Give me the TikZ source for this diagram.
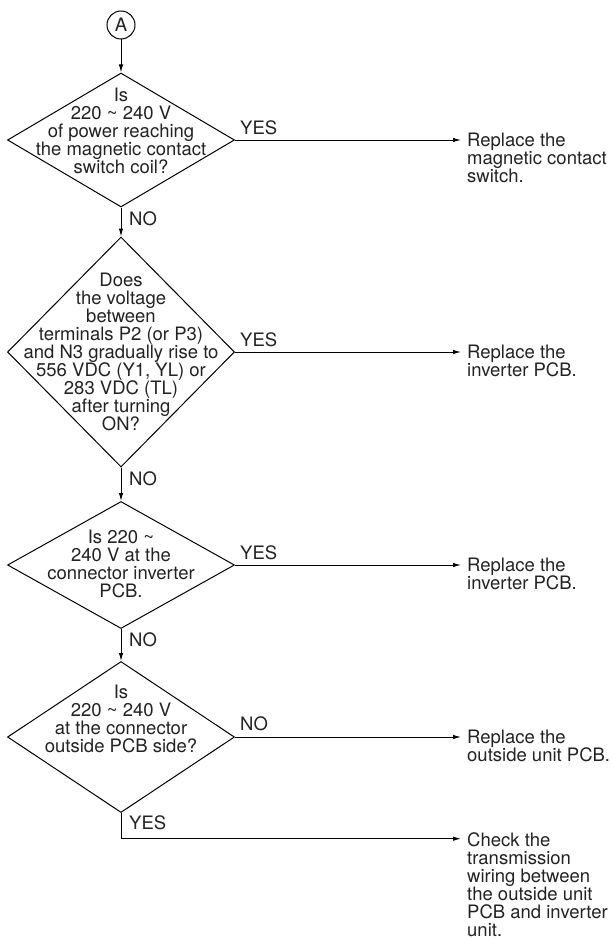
\documentclass[tikz,border=0pt]{standalone}
\usepackage{fontspec}
\setmainfont{TeX Gyre Heros}
\usepackage{xcolor}
\usepackage{tikz}
\usetikzlibrary{arrows.meta,positioning,calc,shapes.geometric}
\definecolor{cInk}{HTML}{222222}
\newcommand{\flfont}{\fontsize{18.5}{18}\selectfont}
\tikzset{
  qbox/.style={draw=black,shape=diamond,line width=1pt,inner sep=0pt,minimum width=227pt,minimum height=#1},
  qtxt/.style={align=center,inner sep=0pt,text=cInk,font=\flfont},
  res/.style={align=left,inner sep=0pt,anchor=north west,text=cInk,font=\flfont},
  lbl/.style={inner sep=0pt,anchor=base west,text=cInk,font=\flfont},
  arr/.style={-{Latex[length=8pt,width=4.5pt]},line width=1pt,color=black},
}

\begin{document}
\begin{tikzpicture}[x=1pt,y=-1pt]
  \useasboundingbox (0,0) rectangle (611,939);
  % connector A
  \node[circle,draw,line width=1pt,minimum size=28pt,inner sep=0pt,font=\flfont,text=cInk] (A) at (121,25) {A};
  % questions
  \node[qbox=134pt] (q1) at (121,140) {};
  \node[qbox=230pt] (q2) at (121,352) {};
  \node[qbox=127pt] (q3) at (121,565) {};
  \node[qbox=151pt] (q4) at (121,737) {};
  \node[qtxt] (t1) at ([yshift=9pt]q1.center) {Is\\220 \textasciitilde\ 240 V\\of power reaching\\the magnetic contact\\switch coil?};
  \node[qtxt] (t2) at (q2.center) {Does\\the voltage\\between\\terminals P2 (or P3)\\and N3 gradually rise to\\556 VDC (Y1, YL) or\\283 VDC (TL)\\after turning\\ON?};
  \node[qtxt] (t3) at ([yshift=1pt]q3.center) {Is 220 \textasciitilde\\240 V at the\\connector inverter\\PCB.};
  \node[qtxt] (t4) at ([yshift=18pt]q4.center) {Is\\220 \textasciitilde\ 240 V\\at the connector\\outside PCB side?};
  % results
  \node[res] (r1) at (467,133) {Replace the\\magnetic contact\\switch.};
  \node[res] (r2) at (467,345) {Replace the\\inverter PCB.};
  \node[res] (r3) at (467,558) {Replace the\\inverter PCB.};
  \node[res] (r4) at (467,730) {Replace the\\outside unit PCB.};
  \node[res] (r5) at (467,832) {Check the\\transmission\\wiring between\\the outside unit\\PCB and inverter\\unit.};
  % flow
  \draw[arr] (A) -- (q1.north);
  \draw[arr] (q1.south) -- (q2.north);
  \draw[arr] (q2.south) -- (q3.north);
  \draw[arr] (q3.south) -- (q4.north);
  \draw[arr,shorten >=6pt] (q1.east) -- (q1.east -| r1.west);
  \draw[arr,shorten >=6pt] (q2.east) -- (q2.east -| r2.west);
  \draw[arr,shorten >=6pt] (q3.east) -- (q3.east -| r3.west);
  \draw[arr,shorten >=6pt] (q4.east) -- (q4.east -| r4.west);
  \draw[arr,shorten >=6pt] (q4.south) |- ([yshift=-6.7pt]r5.north west);
  % labels
  \node[lbl] (y1) at ([xshift=5pt,yshift=5.5pt]q1.east) {YES};
  \node[lbl] (y2) at ([xshift=5pt,yshift=5.5pt]q2.east) {YES};
  \node[lbl] (y3) at ([xshift=5pt,yshift=5.5pt]q3.east) {YES};
  \node[lbl] (n4) at ([xshift=5pt,yshift=7pt]q4.east) {NO};
  \node[lbl] (n1) at ([xshift=8pt,yshift=-17.5pt]q1.south) {NO};
  \node[lbl] (n2) at ([xshift=8pt,yshift=-17.5pt]q2.south) {NO};
  \node[lbl] (n3) at ([xshift=8pt,yshift=-17.5pt]q3.south) {NO};
  \node[lbl] (y4) at ([xshift=8pt,yshift=-16.5pt]q4.south) {YES};
\end{tikzpicture}
\end{document}
